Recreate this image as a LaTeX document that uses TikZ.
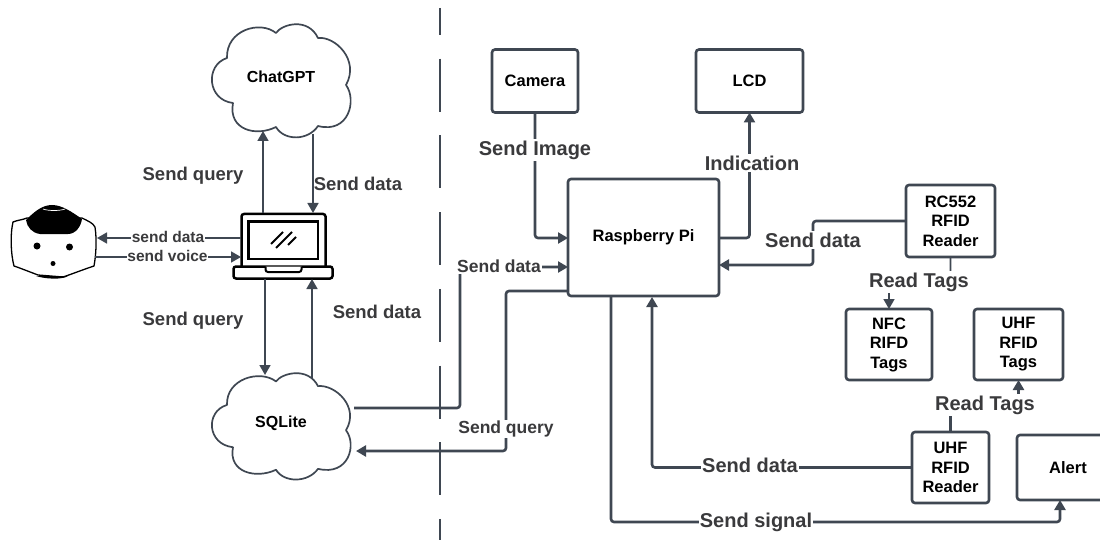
\documentclass[tikz,border=0pt]{standalone}
\usepackage{fontspec}
\setmainfont{Liberation Sans}
\usetikzlibrary{arrows.meta,calc}
\definecolor{ln}{HTML}{3F4752}
\definecolor{lb}{HTML}{3A3A3C}
\tikzset{
  box/.style={draw=ln,line width=2.6pt,rounded corners=3pt,fill=white,align=center,inner sep=0pt,outer sep=0pt,font=\fontsize{16.5}{19.5}\selectfont\bfseries,text=black},
  cloudtext/.style={inner sep=0pt,outer sep=0pt,minimum width=140pt,font=\fontsize{16}{19}\selectfont\bfseries,text=black},
  cloudline/.style={draw=ln,line width=1.7pt,fill=white,line join=round},
  conn/.style={draw=ln,line width=2.6pt,rounded corners=3pt},
  thin conn/.style={draw=ln,line width=1.7pt},
  tip/.style={-{Triangle[width=11pt,length=10pt]}},
  lab/.style={fill=white,inner sep=1.2pt,yshift=-2pt,text=lb,font=\fontsize{18.5}{22}\selectfont\bfseries},
  labbig/.style={lab,font=\fontsize{20}{24}\selectfont\bfseries},
  labmid/.style={lab,font=\fontsize{17.5}{20}\selectfont\bfseries},
  labsmall/.style={fill=white,inner sep=.5pt,text=lb,font=\fontsize{15.5}{18}\selectfont\bfseries},
  lapline/.style={draw=black,line width=2.5pt,rounded corners=2.5pt,fill=white},
  divider/.style={draw=ln,line width=2.8pt,dash pattern=on 53pt off 23.7pt,dash phase=26pt},
}
\newcommand{\cloudpath}{%
  (276,33) .. controls (282,24) and (308,17) .. (318,38)
  .. controls (335,36) and (360,60) .. (346,85)
  .. controls (357,100) and (349,134) .. (318,126)
  .. controls (308,141) and (284,141) .. (276,127)
  .. controls (256,137) and (228,130) .. (233,103)
  .. controls (207,100) and (205,65) .. (227,58)
  .. controls (226,30) and (260,20) .. (276,33) -- cycle}
\begin{document}
\begin{tikzpicture}[x=1pt,y=-1pt]
\useasboundingbox (0,0) rectangle (1100,540);
% divider
\coordinate (divtop) at (440,8);
\coordinate (divbot) at (440,540);
\draw[divider] (divtop) -- (divbot);
% clouds
\draw[cloudline] \cloudpath;
\begin{scope}[yshift=-350.4pt,yscale=0.94]
\draw[cloudline] \cloudpath;
\end{scope}
\node[cloudtext] (chat) at (281,77) {ChatGPT};
\node[cloudtext] (sql) at (281,423) {SQLite};
% boxes
\node[box,minimum width=86pt,minimum height=63pt] (cam) at (535,81) {Camera};
\node[box,minimum width=107pt,minimum height=63pt] (lcd) at (749.5,81) {LCD};
\node[box,minimum width=151pt,minimum height=117pt] (pi) at (643.5,237.5) {\raisebox{3pt}{Raspberry Pi}};
\node[box,minimum width=89pt,minimum height=72pt] (rc) at (950.5,221) {RC552\\RFID\\Reader};
\node[box,minimum width=86pt,minimum height=71pt] (nfc) at (889,344.5) {NFC\\RIFD\\Tags};
\node[box,minimum width=89pt,minimum height=71pt] (tags) at (1018.5,344.5) {UHF\\RFID\\Tags};
\node[box,minimum width=77pt,minimum height=71pt] (uhf) at (950.5,467.5) {UHF\\RFID\\Reader};
\node[box,minimum width=87pt,minimum height=65pt,anchor=west] (alert) at (1017,467.5) {\hspace*{15pt}Alert};
% laptop
\node[inner sep=0pt,outer sep=0pt,minimum width=100pt,minimum height=66pt] (lap) at (283,246) {};
\draw[lapline] (241.5,268) -- (241.5,214) -- (325.5,214) -- (325.5,268);
\draw[lapline,line width=2.2pt,rounded corners=0pt] (248.5,221.5) rectangle (318,259);
\draw[lapline] (233.5,266.5) -- (332.5,266.5) -- (332.5,278.5) -- (233.5,278.5) -- cycle;
\draw[lapline,line width=2pt] (265.5,266.5) -- (265.5,272) -- (301.5,272) -- (301.5,266.5);
\draw[black,line width=1.8pt] (271,244) -- (283,232) (276,248) -- (292,232) (288,245) -- (296,237);
% robot
\node[inner sep=0pt,outer sep=0pt,minimum width=85pt,minimum height=75pt] (robot) at (54,242) {};
\draw[black,line width=1.3pt,fill=white,line join=round]
  (13,222) .. controls (18,220) and (22,220) .. (27,218) -- (82,218)
  .. controls (88,221) and (93,223) .. (95,227)
  .. controls (97,240) and (96,255) .. (94,266)
  .. controls (82,270) and (72,274) .. (63,277) -- (38,275)
  .. controls (30,272) and (20,268) .. (14,266)
  .. controls (11,255) and (10,235) .. (13,222) -- cycle;
\fill[black] (26,220) .. controls (34,212) and (42,205) .. (52,205)
  .. controls (62,205) and (72,212) .. (82,219)
  .. controls (81,226) and (76,234) .. (68,234) -- (40,234)
  .. controls (32,233) and (27,227) .. (26,220) -- cycle;
\draw[white,line width=.7pt] (43,209) .. controls (48,211) and (60,211) .. (65,209);
\fill[black] (36,276) .. controls (45,279) and (62,280) .. (68,276) -- cycle;
\fill[black] (37,246) circle (3.5) (69.5,247) circle (3.5) (53,263.5) circle (2.5);
% thin connectors
\coordinate (cgin) at (263,131);
\coordinate (cgout) at (313,134);
\coordinate (sqin) at (265,375);
\coordinate (sqout) at (312,378);
\draw[thin conn,tip] (lap.north -| cgin) -- (cgin);
\draw[thin conn,tip] (cgout) -- (lap.north -| cgout);
\draw[thin conn,tip] (lap.south -| sqin) -- (sqin);
\draw[thin conn,tip] (sqout) -- (lap.south -| sqout);
\coordinate (lapw1) at (241,238);
\coordinate (lapw2) at (241,257);
\coordinate (robe1) at (97,238);
\coordinate (robe2) at (95,257);
\draw[thin conn,tip] (lapw1) -- (robe1);
\draw[thin conn,tip] (robe2) -- (lapw2);
\node[labsmall] (sd) at (168,236.5) {send data};
\node[labsmall] (sv) at (167.5,256) {send voice};
% thick connectors
\coordinate (sqe1) at (354,408);
\coordinate (sqe2) at (356,451);
\draw[conn,tip] (sqe1) -- (460,408) -- (460,267) -- (pi.west |- 0,267);
\draw[conn,tip] (pi.west |- 0,291) -- (506,291) -- (506,451) -- (sqe2);
\draw[conn,tip] (cam.south) -- (cam.south |- 0,238) -- (pi.west |- 0,238);
\draw[conn,tip] (pi.east |- 0,238) -- (lcd.south |- 0,238) -- (lcd.south);
\draw[conn,tip] (rc.west) -- (813,221) -- (813,265) -- (pi.east |- 0,265);
\draw[conn,line width=1.7pt,tip] (rc.south) -- (rc.south |- 0,280) -- (nfc.north |- 0,280) -- (nfc.north);
\draw[conn,tip] (uhf.north) -- (uhf.north |- 0,403) -- (tags.south |- 0,403) -- (tags.south);
\draw[conn,tip] (uhf.west) -- (652,467.5) -- (652,297);
\draw[conn,tip] (pi.south -| 611,0) -- (611,522) -- (1060,522) -- (1060,500);
% labels
\node[lab,fill=none] (l1) at (193,174) {Send query};
\node[lab,fill=none] (l2) at (358,182) {Send data};
\node[lab,fill=none] (l3) at (193,319) {Send query};
\node[lab,fill=none] (l4) at (377,310) {Send data};
\node[labmid] (l5) at (499,264.5) {Send data};
\node[labmid] (l6) at (506,427) {Send query};
\node[labbig] (l7) at (535,148) {Send Image};
\node[labbig] (l8) at (752,161) {Indication};
\node[labbig] (l9) at (813,238) {Send data};
\node[labbig] (l10) at (919,280) {Read Tags};
\node[labbig] (l11) at (985,403) {Read Tags};
\node[labbig] (l12) at (750,463) {Send data};
\node[labbig] (l13) at (756,520) {Send signal};
\end{tikzpicture}
\end{document}
